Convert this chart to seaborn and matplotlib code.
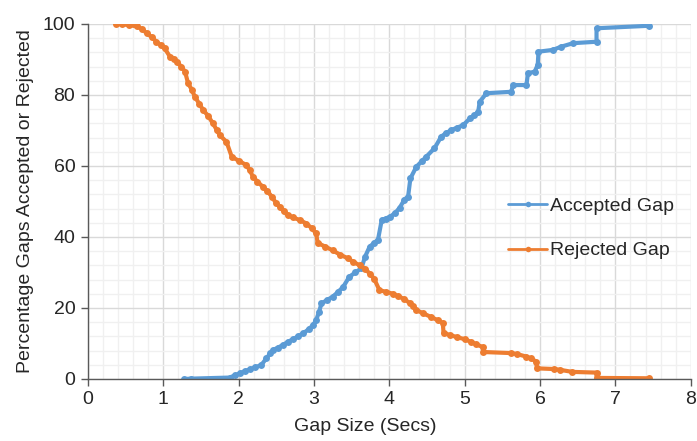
import pandas as pd
import matplotlib
matplotlib.use("Agg")
import matplotlib.pyplot as plt
import seaborn as sns
from matplotlib.ticker import MultipleLocator

# Values
acc_x = [1.28, 1.37, 1.88, 1.95, 2.02, 2.08, 2.15, 2.22, 2.30, 2.37, 2.42, 2.46, 2.52, 2.59, 2.65,
         2.72, 2.79, 2.86, 2.93, 2.99, 3.03, 3.07, 3.10, 3.18, 3.25, 3.32, 3.39, 3.47, 3.55, 3.63,
         3.68, 3.74, 3.80, 3.85, 3.90, 3.95, 4.01, 4.08, 4.14, 4.20, 4.25, 4.28, 4.36, 4.43, 4.49,
         4.60, 4.69, 4.75, 4.82, 4.90, 4.98, 5.07, 5.13, 5.18, 5.20, 5.29, 5.62, 5.64, 5.82, 5.84,
         5.93, 5.97, 5.98, 6.17, 6.28, 6.44, 6.75, 6.75, 7.45]
acc_y = [0, 0.1, 0.4, 1.0, 1.6, 2.2, 2.7, 3.3, 3.9, 5.8, 7.2, 8.2, 8.8, 9.6, 10.4,
         11.2, 12.0, 12.9, 14.0, 15.2, 16.6, 19.0, 21.3, 22.3, 23.2, 24.5, 26, 28.8, 30.0, 31.2,
         34.5, 37.3, 38.3, 39.2, 44.8, 45.2, 45.7, 46.8, 48.3, 50.5, 51.4, 56.5, 59.8, 61.3, 62.6,
         65, 68.3, 69.2, 70.1, 70.8, 71.5, 73.4, 74.3, 75.3, 78.1, 80.5, 80.9, 82.8, 82.8, 86.1,
         86.6, 88.5, 92.2, 92.7, 93.6, 94.6, 95, 98.8, 99.5]

rej_x = [0.37, 0.45, 0.55, 0.65, 0.72, 0.78, 0.85, 0.91, 0.97, 1.02, 1.09, 1.14, 1.18, 1.24, 1.29,
         1.33, 1.38, 1.42, 1.48, 1.53, 1.60, 1.66, 1.71, 1.75, 1.84, 1.91, 2.00, 2.10, 2.15, 2.19,
         2.25, 2.32, 2.38, 2.44, 2.50, 2.55, 2.60, 2.65, 2.72, 2.81, 2.90, 2.97, 3.03, 3.05, 3.15,
         3.25, 3.35, 3.45, 3.52, 3.61, 3.68, 3.75, 3.80, 3.87, 3.95, 4.05, 4.12, 4.20, 4.27, 4.31,
         4.36, 4.45, 4.55, 4.65, 4.71, 4.72, 4.80, 4.90, 5.00, 5.08, 5.15, 5.24, 5.25, 5.62, 5.70,
         5.82, 5.88, 5.95, 5.96, 6.19, 6.26, 6.43, 6.75, 6.75, 7.45]
rej_y = [100, 99.9, 99.7, 99.3, 98.6, 97.4, 96.3, 95, 94, 93.1, 90.8, 90.2, 89.4, 88, 86.6,
         83.3, 81.5, 79.5, 77.5, 75.8, 74, 72, 70.2, 68.7, 66.8, 62.6, 61.5, 60.3, 58.8, 57,
         55.6, 54.2, 53, 51.4, 49.5, 48.5, 47.2, 46.2, 45.5, 44.8, 43.8, 42.5, 41, 38.3, 37.3,
         36.2, 35, 34, 33, 32, 31, 29.5, 28.2, 25, 24.6, 24, 23.3, 22.5, 21.4, 20.5,
         19.4, 18.5, 17.5, 16.5, 15.8, 13, 12.4, 11.8, 11.2, 10.5, 9.8, 9.0, 7.6, 7.3, 7.0,
         6.3, 5.8, 4.9, 3.0, 2.8, 2.6, 2.0, 1.8, 0.3, 0.2]

series = ["Accepted Gap", "Rejected Gap"]
colors = {"Accepted Gap": "#5B9BD5", "Rejected Gap": "#ED7D31"}

df = pd.concat([
    pd.DataFrame({"gap": acc_x, "pct": acc_y, "series": series[0]}),
    pd.DataFrame({"gap": rej_x, "pct": rej_y, "series": series[1]}),
], ignore_index=True)

sns.set_style("white")
plt.rcParams["font.family"] = ["Liberation Sans", "DejaVu Sans"]

fig = plt.figure(figsize=(6.97, 4.41), dpi=100)
ax = fig.add_axes([0.126, 0.1406, 0.865, 0.805])

sns.lineplot(data=df, x="gap", y="pct", hue="series", hue_order=series, palette=colors,
             estimator=None, sort=False, marker="o", markersize=5, markeredgewidth=0,
             linewidth=3, ax=ax)

ax.set_xlim(0, 8)
ax.set_ylim(0, 100)
ax.xaxis.set_major_locator(MultipleLocator(1))
ax.xaxis.set_minor_locator(MultipleLocator(0.2))
ax.yaxis.set_major_locator(MultipleLocator(20))
ax.yaxis.set_minor_locator(MultipleLocator(4))
ax.grid(which="major", color="#D9D9D9", linewidth=1)
ax.grid(which="minor", color="#F0F0F0", linewidth=1)
ax.set_axisbelow(True)

for s in ["top", "right"]:
    ax.spines[s].set_visible(False)
for s in ["left", "bottom"]:
    ax.spines[s].set_color("#595959")
    ax.spines[s].set_linewidth(1)
ax.tick_params(which="major", direction="out", length=5, width=1, color="#595959",
               labelsize=14, labelcolor="#262626", bottom=True, left=True, pad=4)
ax.tick_params(which="minor", length=0)

ax.set_xlabel("Gap Size (Secs)", fontsize=14, color="#262626")
ax.xaxis.set_label_coords(0.46, -0.11)
ax.xaxis.label.set_va("top")
ax.set_ylabel("Percentage Gaps Accepted or Rejected", fontsize=14, color="#262626", labelpad=6)

leg = ax.legend(loc="center left", bbox_to_anchor=(0.668, 0.425), frameon=False,
                fontsize=14, handlelength=2.0, labelspacing=1.4, handletextpad=0.15)
for t in leg.get_texts():
    t.set_color("#262626")
for h in leg.get_lines():
    h.set_linewidth(2)
    h.set_markersize(4)

fig.savefig("out.png", dpi=100)
